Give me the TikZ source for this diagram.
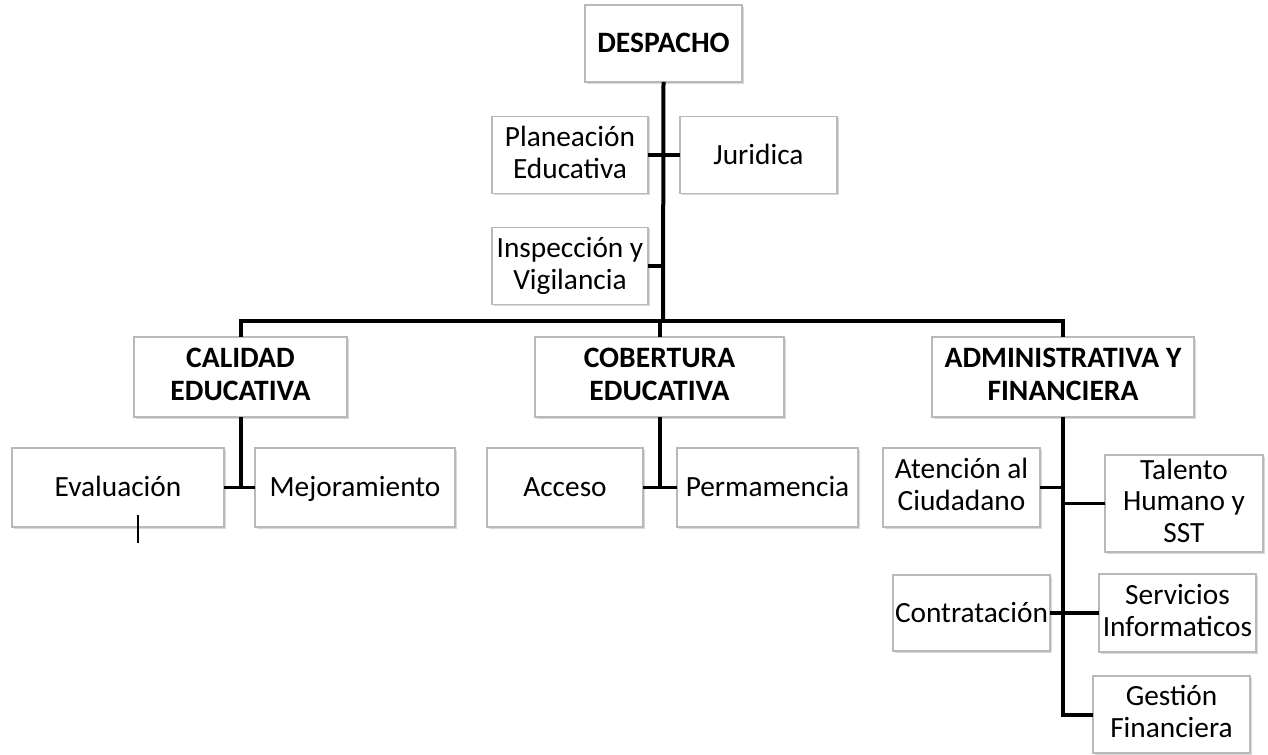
\documentclass[tikz,border=0pt]{standalone}
\usepackage{fontspec}
\setmainfont{Carlito}
\usetikzlibrary{shadows}

\begin{document}
\begin{tikzpicture}[x=0.75pt, y=-0.75pt,
    box/.style 2 args={draw=gray!55, line width=0.8pt, fill=white, align=center,
        inner sep=1pt, outer sep=0pt,
        minimum width=#1*0.75pt, minimum height=#2*0.75pt,
        font=\fontsize{22}{23.8}\selectfont,
        execute at begin node={\rule{0pt}{18.4pt}},
        execute at end node={\rule[-4.4pt]{0pt}{4.4pt}},
        drop shadow={shadow xshift=1.2pt, shadow yshift=-1.2pt, opacity=0.3, fill=gray}},
    head/.style 2 args={box={#1}{#2}, font=\fontsize{22.2}{24.4}\selectfont\bfseries},
    trunk/.style={line width=3pt},
    stub/.style={line width=2.3pt}]
    \useasboundingbox (0,0) rectangle (1268,755);

    % Despacho and its offices
    \node[head={157}{77}] (desp) at (663.5,43.5) {DESPACHO};
    \node[box={156}{77}] (plan) at (570,155) {Planeación\\Educativa};
    \node[box={157}{77}] (jur) at (758.5,155) {Juridica};
    \node[box={156}{77}] (insp) at (570,266) {Inspección y\\Vigilancia};

    % Direcciones
    \coordinate (bar) at (663,321);
    \node[head={213}{80}] (cal) at (240.5,377) {CALIDAD\\EDUCATIVA};
    \node[head={249}{80}] (cob) at (659.5,377) {COBERTURA\\EDUCATIVA};
    \node[head={262}{80}] (adm) at (1063,377) {ADMINISTRATIVA Y\\FINANCIERA};

    % Calidad
    \node[box={212}{79}] (eval) at (118,487.5) {Evaluación};
    \node[box={200}{79}] (mej) at (355,487.5) {Mejoramiento};

    % Cobertura
    \node[box={156}{79}] (acc) at (565,487.5) {Acceso};
    \node[box={181}{79}] (perm) at (767.5,487.5) {Permamencia};

    % Administrativa y Financiera
    \node[box={157}{79}] (aten) at (961.5,487.5) {Atención al\\Ciudadano};
    \node[box={158}{97}] (tal) at (1184,503.5) {Talento\\Humano y\\SST};
    \node[box={157}{76}] (contr) at (971.5,613) {Contratación};
    \node[box={157}{78}] (serv) at (1177.5,613) {Servicios\\Informaticos};
    \node[box={157}{77}] (gest) at (1171.5,714.5) {Gestión\\Financiera};

    % connectors
    \draw[trunk] (desp.south) -- (bar);
    \draw[stub] (plan.east) -- (jur.west);
    \draw[stub] (insp.east) -- (insp.east -| desp.south);
    \draw[trunk] (cal.north) |- (bar) -| (adm.north);
    \draw[trunk] (cob.north) -- (cob.north |- bar);

    \draw[trunk] (cal.south) -- (cal.south |- eval.east);
    \draw[stub] (eval.east) -- (mej.west);
    \draw[trunk] (cob.south) -- (cob.south |- acc.east);
    \draw[stub] (acc.east) -- (perm.west);

    \draw[trunk] (adm.south) |- (gest.west);
    \draw[stub] (aten.east) -- (aten.east -| adm.south);
    \draw[stub] (tal.west) -- (tal.west -| adm.south);
    \draw[stub] (contr.east) -- (serv.west);

    % stray mark under Evaluacion
    \coordinate (tick) at (138,515);
    \draw[line width=0.8pt] (tick) -- ++(0,28);
\end{tikzpicture}
\end{document}
